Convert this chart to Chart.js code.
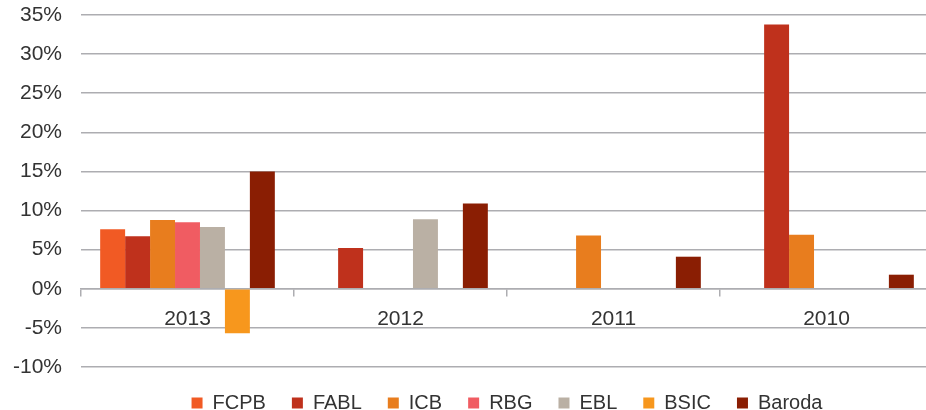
<!DOCTYPE html>
<html lang="en">
<head>
  <meta charset="UTF-8">
  <title>Bank growth by year</title>
  <style>
    html, body { margin: 0; padding: 0; overflow: hidden; background: #fff; }
  </style>
</head>
<body>
  <canvas id="growthChart" width="933" height="410"></canvas>

  <script src="https://cdn.jsdelivr.net/npm/chart.js"></script>
  <script>
    const years = ['2013', '2012', '2011', '2010'];

    const fcpb   = [7.6, null, null, null];
    const fabl   = [6.7, 5.2, null, 33.8];
    const icb    = [8.8, 0.1, 6.8, 6.9];
    const rbg    = [8.5, null, null, null];
    const ebl    = [7.9, 8.9, null, null];
    const bsic   = [-5.7, null, null, null];
    const baroda = [15.0, 10.9, 4.1, 1.8];

    const yTicks = [-10, -5, 0, 5, 10, 15, 20, 25, 30, 35];

    const gridColor = '#adadb1';
    const textColor = '#333333';
    const fontFamily = '"Liberation Sans", Arial, Helvetica, sans-serif';

    const series = [
      { label: 'FCPB',   data: fcpb,   color: '#f15a24' },
      { label: 'FABL',   data: fabl,   color: '#bf311c' },
      { label: 'ICB',    data: icb,    color: '#e87d1e' },
      { label: 'RBG',    data: rbg,    color: '#f05c62' },
      { label: 'EBL',    data: ebl,    color: '#bab0a4' },
      { label: 'BSIC',   data: bsic,   color: '#f7971d' },
      { label: 'Baroda', data: baroda, color: '#8a1e03' }
    ];

    const ctx = document.getElementById('growthChart').getContext('2d');
    new Chart(ctx, {
      type: 'bar',
      data: {
        labels: years,
        datasets: series.map(s => ({
          label: s.label,
          data: s.data,
          backgroundColor: s.color,
          borderWidth: 0,
          categoryPercentage: 0.82,
          barPercentage: 1.0
        }))
      },
      options: {
        responsive: false,
        animation: false,
        layout: {
          padding: { top: 15, right: 0, bottom: -13, left: 0 }
        },
        scales: {
          x: {
            position: { y: 0 },
            afterFit: scale => { scale.height = 0; },
            grid: {
              offset: true,
              drawOnChartArea: false,
              color: gridColor,
              lineWidth: 1.5,
              tickLength: 7
            },
            border: { color: gridColor, width: 1.5 },
            ticks: {
              color: textColor,
              padding: 11,
              font: { family: fontFamily, size: 21 }
            }
          },
          y: {
            min: -10,
            max: 35,
            afterFit: scale => { scale.width = 81; },
            afterBuildTicks: scale => {
              scale.ticks = yTicks.map(v => ({ value: v }));
            },
            grid: {
              color: gridColor,
              lineWidth: 1.5,
              tickLength: 19,
              tickColor: 'rgba(0,0,0,0)'
            },
            border: { display: false },
            ticks: {
              color: textColor,
              padding: 0,
              font: { family: fontFamily, size: 21 },
              callback: v => v + '%'
            }
          }
        },
        plugins: {
          legend: {
            position: 'bottom',
            fullSize: false,
            labels: {
              boxWidth: 11,
              boxHeight: 11,
              padding: 26,
              color: textColor,
              font: { family: fontFamily, size: 20 }
            }
          },
          tooltip: { enabled: false }
        }
      }
    });
  </script>
</body>
</html>
